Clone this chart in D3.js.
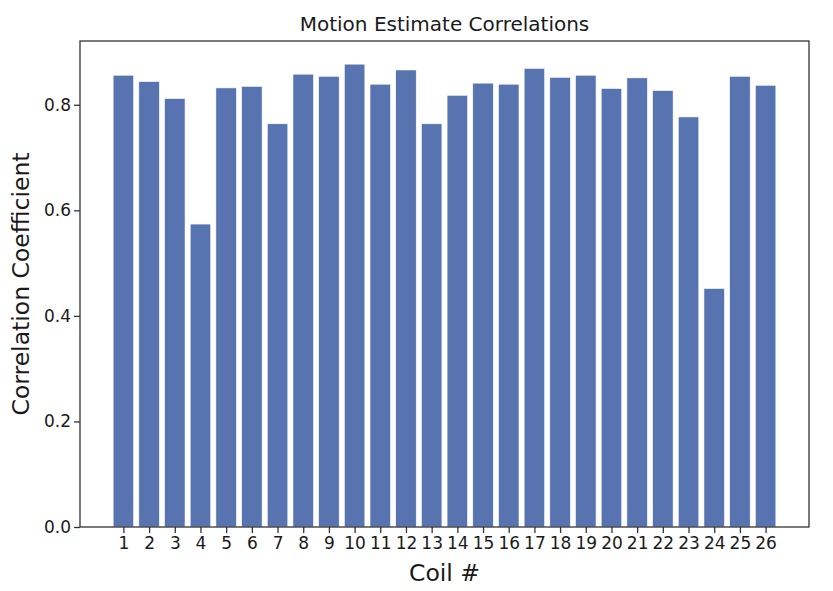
<!DOCTYPE html>
<html>
<head>
<meta charset="utf-8">
<script src="https://cdn.jsdelivr.net/npm/d3@7"></script>
<style>
  html, body { margin: 0; padding: 0; background: #fff; }
  text { font-family: "DejaVu Sans", sans-serif; fill: #1a1a1a; }
</style>
</head>
<body>
<svg id="chart" width="833" height="591"></svg>
<script>
const coils = [1,2,3,4,5,6,7,8,9,10,11,12,13,14,15,16,17,18,19,20,21,22,23,24,25,26];
const correlations = [0.856,0.844,0.812,0.574,0.832,0.835,0.764,0.858,0.854,0.877,0.839,0.866,0.764,0.818,
                      0.841,0.839,0.869,0.852,0.856,0.831,0.851,0.827,0.777,0.452,0.854,0.837];
const yTicks = [0.0,0.2,0.4,0.6,0.8];
const title = "Motion Estimate Correlations";
const xLabel = "Coil #";
const yLabel = "Correlation Coefficient";

const svg = d3.select("#chart");
const L = 80, R = 809, T = 41, B = 527;
const barW = 0.8;
const lo = coils[0] - barW/2, hi = coils[coils.length-1] + barW/2;
const pad = (hi - lo) * 0.05;
const x = d3.scaleLinear().domain([lo - pad, hi + pad]).range([L, R]);
const y = d3.scaleLinear().domain([0, d3.max(correlations) * 1.05]).range([B, T]);

svg.append("g").selectAll("rect").data(coils).join("rect")
  .attr("x", (d) => x(d - barW/2))
  .attr("width", (d) => x(d + barW/2) - x(d - barW/2))
  .attr("y", (d,i) => y(correlations[i]))
  .attr("height", (d,i) => y(0) - y(correlations[i]))
  .attr("fill", "#5874b0")
  .attr("stroke", "#ffffff")
  .attr("stroke-width", 0.6);

const xAxis = svg.append("g").attr("transform", `translate(0,${B})`)
  .call(d3.axisBottom(x).tickValues(coils).tickFormat(d3.format("d")).tickSize(6).tickSizeOuter(0));
const yAxis = svg.append("g").attr("transform", `translate(${L},0)`)
  .call(d3.axisLeft(y).tickValues(yTicks).tickFormat(d3.format(".1f")).tickSize(6).tickSizeOuter(0));
[xAxis, yAxis].forEach(g => {
  g.select(".domain").remove();
  g.selectAll(".tick line").attr("stroke", "#333").attr("stroke-width", 1.3);
  g.selectAll(".tick text").style("font-family", "DejaVu Sans").style("font-size", "17px").attr("fill", "#1a1a1a");
});
xAxis.selectAll(".tick text").attr("dy", "0.71em").attr("y", 10);
yAxis.selectAll(".tick text").attr("x", -9);

svg.append("rect").attr("x", L).attr("y", T).attr("width", R - L).attr("height", B - T)
  .attr("fill", "none").attr("stroke", "#333").attr("stroke-width", 1.3);

svg.append("text").attr("x", (L+R)/2).attr("y", 31).attr("text-anchor", "middle")
  .style("font-size", "20px").text(title);
svg.append("text").attr("x", (L+R)/2).attr("y", 581).attr("text-anchor", "middle")
  .style("font-size", "23.5px").text(xLabel);
svg.append("text").attr("transform", `translate(29,${(T+B)/2}) rotate(-90)`).attr("text-anchor", "middle")
  .style("font-size", "23.5px").text(yLabel);
</script>
</body>
</html>
